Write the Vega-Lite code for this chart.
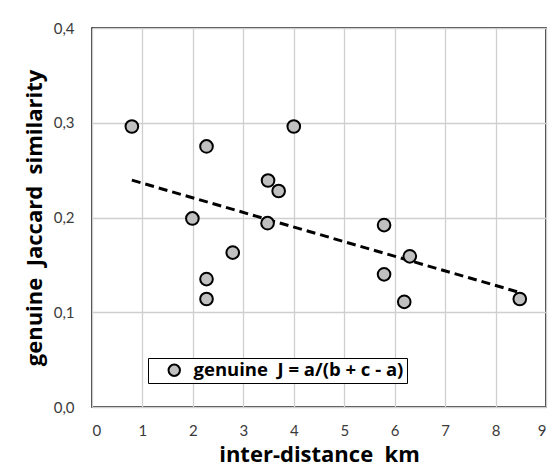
{
  "$schema": "https://vega.github.io/schema/vega-lite/v6.json",
  "width": 454,
  "height": 379,
  "autosize": "none",
  "padding": {"left": 92, "top": 28, "right": 11, "bottom": 59},
  "background": "white",
  "data": {
    "values": [
      {"d": 0.79, "j": 0.296, "series": "genuine\u00a0\u00a0J = a/(b + c - a)\u00a0"},
      {"d": 2.27, "j": 0.275, "series": "genuine\u00a0\u00a0J = a/(b + c - a)\u00a0"},
      {"d": 4.0, "j": 0.296, "series": "genuine\u00a0\u00a0J = a/(b + c - a)\u00a0"},
      {"d": 3.49, "j": 0.239, "series": "genuine\u00a0\u00a0J = a/(b + c - a)\u00a0"},
      {"d": 3.7, "j": 0.228, "series": "genuine\u00a0\u00a0J = a/(b + c - a)\u00a0"},
      {"d": 1.99, "j": 0.199, "series": "genuine\u00a0\u00a0J = a/(b + c - a)\u00a0"},
      {"d": 3.48, "j": 0.194, "series": "genuine\u00a0\u00a0J = a/(b + c - a)\u00a0"},
      {"d": 2.79, "j": 0.163, "series": "genuine\u00a0\u00a0J = a/(b + c - a)\u00a0"},
      {"d": 2.27, "j": 0.135, "series": "genuine\u00a0\u00a0J = a/(b + c - a)\u00a0"},
      {"d": 2.27, "j": 0.114, "series": "genuine\u00a0\u00a0J = a/(b + c - a)\u00a0"},
      {"d": 5.79, "j": 0.192, "series": "genuine\u00a0\u00a0J = a/(b + c - a)\u00a0"},
      {"d": 6.3, "j": 0.159, "series": "genuine\u00a0\u00a0J = a/(b + c - a)\u00a0"},
      {"d": 5.79, "j": 0.14, "series": "genuine\u00a0\u00a0J = a/(b + c - a)\u00a0"},
      {"d": 6.19, "j": 0.111, "series": "genuine\u00a0\u00a0J = a/(b + c - a)\u00a0"},
      {"d": 8.48, "j": 0.114, "series": "genuine\u00a0\u00a0J = a/(b + c - a)\u00a0"}
    ]
  },
  "layer": [
    {
      "transform": [{"regression": "j", "on": "d"}],
      "mark": {"type": "line", "color": "black", "strokeWidth": 3, "strokeDash": [9, 5]},
      "encoding": {
        "x": {"field": "d", "type": "quantitative"},
        "y": {"field": "j", "type": "quantitative"}
      }
    },
    {
      "mark": {"type": "point", "filled": true, "size": 160, "stroke": "black", "strokeWidth": 2, "opacity": 1},
      "encoding": {
        "x": {
          "field": "d", "type": "quantitative",
          "scale": {"domain": [0, 9], "nice": false},
          "axis": {"values": [0,1,2,3,4,5,6,7,8,9], "title": "inter-distance\u00a0\u00a0km", "labelPadding": 16, "titlePadding": 6}
        },
        "y": {
          "field": "j", "type": "quantitative",
          "scale": {"domain": [0, 0.4], "nice": false},
          "axis": {"values": [0, 0.1, 0.2, 0.3, 0.4], "title": "genuine\u00a0\u00a0Jaccard\u00a0\u00a0similarity",
            "labelExpr": "replace(format(datum.value, '.1f'), '.', ',')", "labelPadding": 18, "titlePadding": 7}
        },
        "color": {
          "field": "series", "type": "nominal",
          "scale": {"range": ["#c0c0c0"]},
          "legend": {
            "title": null, "orient": "none", "legendX": 56, "legendY": 330,
            "strokeColor": "black", "fillColor": "white", "padding": 3,
            "symbolType": "circle", "symbolSize": 130, "symbolStrokeWidth": 2, "symbolStrokeColor": "black",
            "symbolOffset": 14,
            "labelFontSize": 18.5, "labelFont": "Open Sans", "labelFontWeight": "bold", "labelColor": "black",
            "labelOffset": 10, "labelLimit": 400,
            "encode": {"symbols": {"update": {"stroke": {"value": "black"}, "strokeWidth": {"value": 2}, "fill": {"value": "#c0c0c0"}, "opacity": {"value": 1}}}}
          }
        }
      }
    }
  ],
  "config": {
    "view": {"stroke": "black", "strokeWidth": 1.5},
    "axis": {
      "domain": false, "ticks": false,
      "grid": true, "gridColor": "#cfcfcf", "gridWidth": 1.3,
      "labelFont": "Lato", "labelFontSize": 15, "labelColor": "#3a3a3a",
      "titleFont": "Open Sans", "titleFontSize": 22, "titleFontWeight": "bold", "titleColor": "black"
    }
  }
}
